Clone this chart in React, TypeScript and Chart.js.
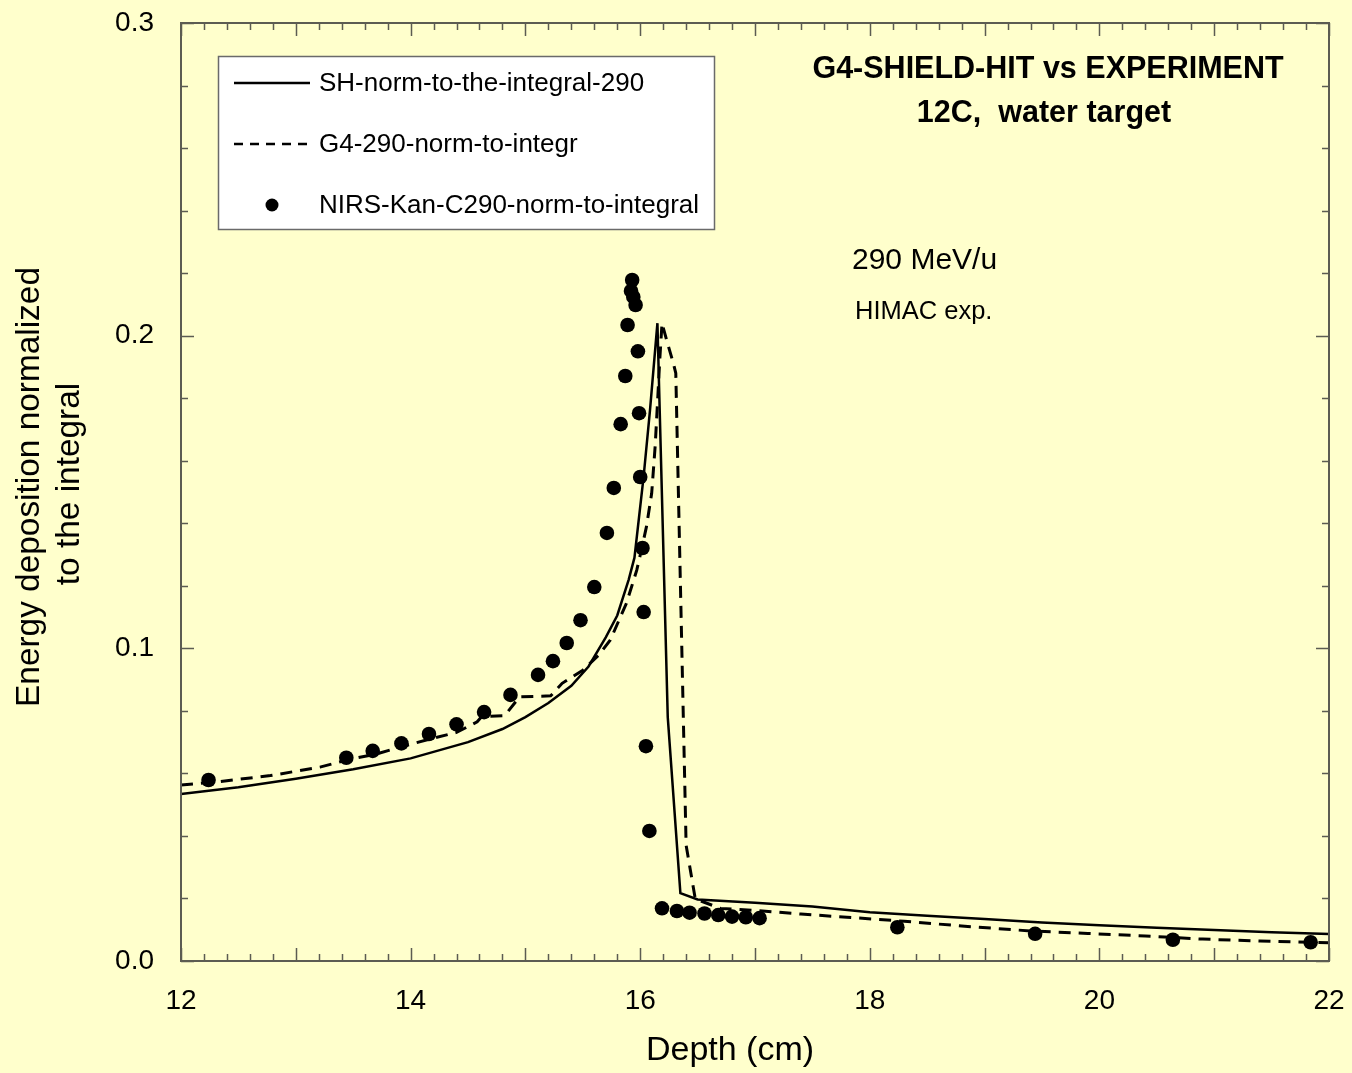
import React, { useEffect, useRef } from "react";
import { Chart, registerables } from "chart.js";

Chart.register(...registerables);

// SHIELD-HIT simulation, normalized to the integral (depth in cm)
const shDepth = [12.0, 12.5, 13.0, 13.5, 14.0, 14.5, 14.8, 15.0, 15.2, 15.4, 15.55, 15.7, 15.8, 15.9, 15.95, 16.03, 16.085, 16.15, 16.24, 16.35, 16.5, 17.0, 17.5, 18.0, 18.5, 19.0, 19.5, 20.0, 20.5, 21.0, 21.5, 22.0];
const shDose = [0.0534, 0.0556, 0.0583, 0.0613, 0.0648, 0.07, 0.0742, 0.078, 0.0825, 0.088, 0.0942, 0.1035, 0.1105, 0.122, 0.129, 0.155, 0.176, 0.204, 0.078, 0.0217, 0.0197, 0.0186, 0.0174, 0.0156, 0.0145, 0.0134, 0.0123, 0.0114, 0.0106, 0.0099, 0.0092, 0.0086];

// Geant4 simulation, normalized to the integral
const g4Depth = [12.0, 12.34, 12.78, 13.21, 13.48, 13.7, 13.93, 14.17, 14.4, 14.58, 14.62, 14.82, 14.95, 15.22, 15.32, 15.5, 15.64, 15.74, 15.88, 15.97, 16.01, 16.055, 16.1, 16.13, 16.15, 16.17, 16.19, 16.23, 16.29, 16.31, 16.4, 16.48, 16.5, 16.7, 17.0, 17.4, 17.8, 18.3, 18.8, 19.4, 19.9, 20.4, 20.9, 21.4, 22.0];
const g4Dose = [0.0563, 0.0574, 0.0593, 0.062, 0.0646, 0.0662, 0.0686, 0.071, 0.0731, 0.0765, 0.0782, 0.0785, 0.0845, 0.0848, 0.0888, 0.093, 0.0979, 0.1027, 0.1144, 0.125, 0.1314, 0.139, 0.1496, 0.1645, 0.178, 0.192, 0.204, 0.1986, 0.191, 0.188, 0.037, 0.0198, 0.0196, 0.0168, 0.0162, 0.015, 0.014, 0.0127, 0.0112, 0.0096, 0.0088, 0.008, 0.007, 0.0064, 0.0058];

// NIRS measurement at HIMAC, normalized to the integral
const expDepth = [12.24, 13.44, 13.67, 13.92, 14.16, 14.4, 14.64, 14.87, 15.11, 15.24, 15.36, 15.48, 15.6, 15.71, 15.77, 15.83, 15.87, 15.89, 15.92, 15.93, 15.94, 15.96, 15.98, 15.99, 16.0, 16.02, 16.03, 16.05, 16.08, 16.19, 16.32, 16.43, 16.56, 16.68, 16.8, 16.92, 17.04, 18.24, 19.44, 20.64, 21.84];
const expDose = [0.0579, 0.065, 0.0672, 0.0696, 0.0726, 0.0757, 0.0796, 0.0851, 0.0915, 0.0959, 0.1017, 0.109, 0.1196, 0.1369, 0.1513, 0.1717, 0.1871, 0.2034, 0.2143, 0.2178, 0.2124, 0.2098, 0.195, 0.1752, 0.1548, 0.1321, 0.1116, 0.0687, 0.0416, 0.01685, 0.016, 0.01545, 0.0152, 0.0147, 0.0142, 0.014, 0.0137, 0.0108, 0.0087, 0.0068, 0.006];

const seriesNames = ["SH-norm-to-the-integral-290", "G4-290-norm-to-integr", "NIRS-Kan-C290-norm-to-integral"];
const titleLines = ["G4-SHIELD-HIT vs EXPERIMENT", "12C,  water target"];
const beamLabel = "290 MeV/u";
const facilityLabel = "HIMAC exp.";
const xAxisTitle = "Depth (cm)";
const yAxisTitle = ["Energy deposition normalized", "to the integral"];

const xMin = 12;
const xMax = 22;
const xLabelStep = 2;
const xMinorStep = 0.2;
const xMajorStep = 1;
const yMin = 0;
const yMax = 0.3;
const yLabelStep = 0.1;
const yMinorStep = 0.02;

const FONT = '"Liberation Sans", Arial, Helvetica, sans-serif';
const BG = "#FFFFCC";
const FRAME = "#5c5c52";

const toPoints = (xs: number[], ys: number[]) => xs.map((x, i) => ({ x, y: ys[i] }));

const backgroundPlugin = {
  id: "pageBackground",
  beforeDraw(chart: any) {
    const { ctx, width, height } = chart;
    ctx.save();
    ctx.fillStyle = BG;
    ctx.fillRect(0, 0, width, height);
    ctx.restore();
  },
};

// Plot frame with inward ticks on all four sides
const framePlugin = {
  id: "frameTicks",
  afterDraw(chart: any) {
    const { ctx, chartArea: a, scales } = chart;
    const xs = scales.x;
    const ys = scales.y;
    ctx.save();
    ctx.strokeStyle = FRAME;
    ctx.lineWidth = 2;
    ctx.strokeRect(a.left, a.top, a.right - a.left, a.bottom - a.top);
    ctx.lineWidth = 1.5;
    ctx.beginPath();
    const nx = Math.round((xMax - xMin) / xMinorStep);
    for (let i = 0; i <= nx; i++) {
      const v = xMin + i * xMinorStep;
      const major = Math.abs(v / xMajorStep - Math.round(v / xMajorStep)) < 1e-6;
      const len = major ? 13 : 7;
      const px = Math.round(xs.getPixelForValue(v)) + 0.5;
      ctx.moveTo(px, a.bottom);
      ctx.lineTo(px, a.bottom - len);
      ctx.moveTo(px, a.top);
      ctx.lineTo(px, a.top + len);
    }
    const ny = Math.round((yMax - yMin) / yMinorStep);
    for (let i = 0; i <= ny; i++) {
      const v = yMin + i * yMinorStep;
      const major = Math.abs(v / yLabelStep - Math.round(v / yLabelStep)) < 1e-6;
      const len = major ? 13 : 7;
      const py = Math.round(ys.getPixelForValue(v)) + 0.5;
      ctx.moveTo(a.left, py);
      ctx.lineTo(a.left + len, py);
      ctx.moveTo(a.right, py);
      ctx.lineTo(a.right - len, py);
    }
    ctx.stroke();
    ctx.restore();
  },
};

// Boxed legend inside the plot, titles and annotations
const annotationPlugin = {
  id: "legendAndText",
  afterDraw(chart: any) {
    const { ctx, chartArea: a, data } = chart;
    ctx.save();

    // legend box
    const bx = a.left + 37;
    const by = a.top + 33;
    const bw = 496;
    const bh = 173;
    ctx.fillStyle = "#ffffff";
    ctx.fillRect(bx, by, bw, bh);
    ctx.strokeStyle = "#6a6a6a";
    ctx.lineWidth = 1.5;
    ctx.strokeRect(bx + 0.5, by + 0.5, bw, bh);

    ctx.font = `26px ${FONT}`;
    ctx.textBaseline = "middle";
    ctx.textAlign = "left";
    const rowY = [by + 27, by + 88, by + 149];
    data.datasets.forEach((ds: any, i: number) => {
      const y = rowY[i];
      ctx.strokeStyle = "#000";
      ctx.fillStyle = "#000";
      if (ds.showLine) {
        ctx.lineWidth = 2.5;
        ctx.setLineDash(ds.borderDash && ds.borderDash.length ? [9, 7] : []);
        ctx.beginPath();
        ctx.moveTo(bx + 16, y);
        ctx.lineTo(bx + 92, y);
        ctx.stroke();
        ctx.setLineDash([]);
      } else {
        ctx.beginPath();
        ctx.arc(bx + 54, y, 6.5, 0, Math.PI * 2);
        ctx.fill();
      }
      ctx.fillText(ds.label, bx + 101, y + 1);
    });

    // title
    ctx.fillStyle = "#000";
    ctx.textAlign = "center";
    ctx.font = `bold 30.5px ${FONT}`;
    ctx.fillText(titleLines[0], 1048, 70);
    ctx.fillText(titleLines[1], 1044, 114);

    // beam annotations
    ctx.textAlign = "left";
    ctx.font = `30px ${FONT}`;
    ctx.fillText(beamLabel, 852, 261);
    ctx.font = `25.5px ${FONT}`;
    ctx.fillText(facilityLabel, 855, 312);

    // axis titles
    ctx.font = `34px ${FONT}`;
    ctx.textAlign = "center";
    ctx.fillText(xAxisTitle, 730, 1051);
    ctx.font = `33.4px ${FONT}`;
    ctx.save();
    ctx.translate(30, 487);
    ctx.rotate(-Math.PI / 2);
    ctx.fillText(yAxisTitle[0], 0, 0);
    ctx.restore();
    ctx.save();
    ctx.translate(70, 484);
    ctx.rotate(-Math.PI / 2);
    ctx.fillText(yAxisTitle[1], 0, 0);
    ctx.restore();

    ctx.restore();
  },
};

// Hidden tick marks reserve the gap between the frame and the tick labels
const hiddenTickGrid = (len: number) => ({
  display: true,
  drawOnChartArea: false,
  drawTicks: true,
  tickLength: len,
  tickColor: "rgba(0,0,0,0)",
  color: "rgba(0,0,0,0)",
});

export default function App() {
  const canvasRef = useRef<HTMLCanvasElement | null>(null);

  useEffect(() => {
    if (!canvasRef.current) return;
    const chart = new Chart(canvasRef.current, {
      type: "scatter",
      data: {
        datasets: [
          {
            label: seriesNames[0],
            data: toPoints(shDepth, shDose),
            showLine: true,
            borderColor: "#000",
            borderWidth: 2.5,
            pointRadius: 0,
            tension: 0,
          },
          {
            label: seriesNames[1],
            data: toPoints(g4Depth, g4Dose),
            showLine: true,
            borderColor: "#000",
            borderWidth: 3,
            borderDash: [12, 8],
            pointRadius: 0,
            tension: 0,
          },
          {
            label: seriesNames[2],
            data: toPoints(expDepth, expDose),
            showLine: false,
            backgroundColor: "#000",
            borderColor: "#000",
            borderWidth: 0,
            pointRadius: 7.3,
            pointStyle: "circle",
          },
        ],
      },
      options: {
        responsive: true,
        maintainAspectRatio: false,
        animation: false,
        layout: { padding: { left: 0, right: 23, top: 23, bottom: 0 } },
        plugins: {
          legend: { display: false },
          tooltip: { enabled: false },
          title: { display: false },
        },
        scales: {
          x: {
            type: "linear",
            min: xMin,
            max: xMax,
            grid: hiddenTickGrid(23),
            border: { display: false },
            ticks: {
              stepSize: xLabelStep,
              padding: 0,
              color: "#000",
              font: { family: FONT, size: 28 },
              maxRotation: 0,
            },
            afterFit: (s: any) => {
              s.height = 112;
            },
          },
          y: {
            type: "linear",
            min: yMin,
            max: yMax,
            grid: hiddenTickGrid(27),
            border: { display: false },
            ticks: {
              stepSize: yLabelStep,
              padding: 0,
              color: "#000",
              font: { family: FONT, size: 28 },
              callback: (v: any) => Number(v).toFixed(1),
            },
            afterFit: (s: any) => {
              s.width = 181;
            },
          },
        },
      },
      plugins: [backgroundPlugin, framePlugin, annotationPlugin],
    });
    return () => chart.destroy();
  }, []);

  return (
    <div style={{ position: "absolute", left: 0, top: 0, width: 1352, height: 1073 }}>
      <canvas ref={canvasRef} />
    </div>
  );
}
